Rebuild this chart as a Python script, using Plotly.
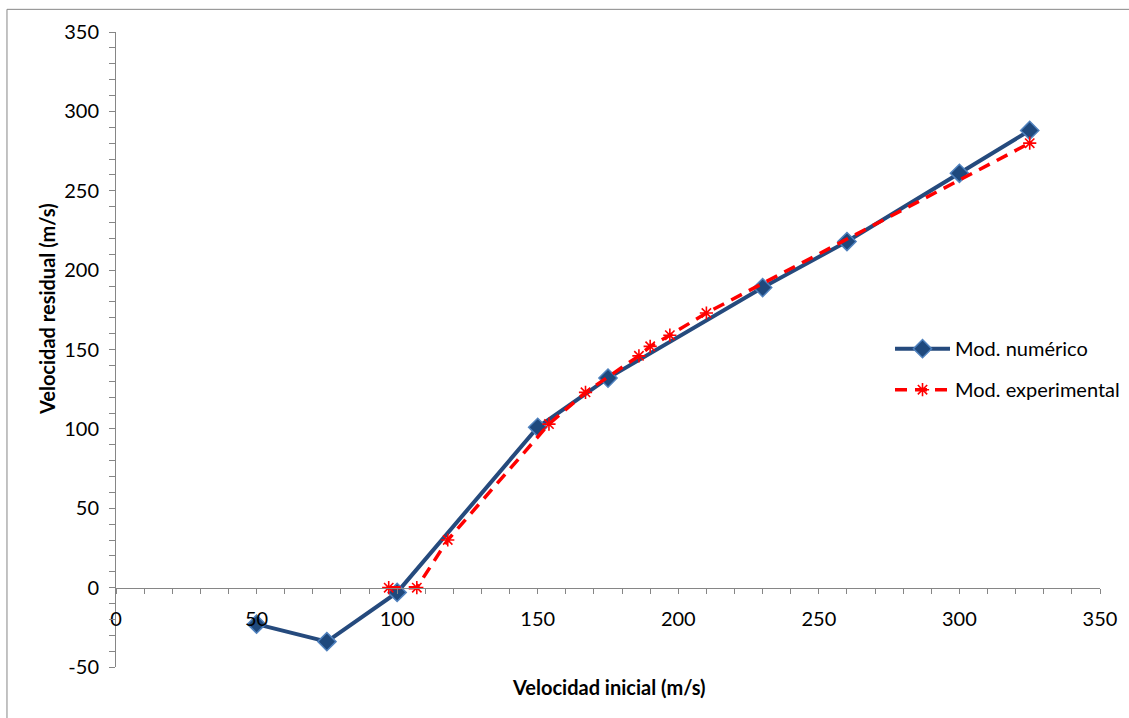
import plotly.graph_objects as go

# Numerical model results
num_x = [50, 75, 100, 150, 175, 230, 260, 300, 325]
num_y = [-23, -34, -3, 101, 132, 189, 218, 261, 288]

# Experimental results
exp_x = [97, 107, 118, 154, 167, 186, 190, 197, 210, 325]
exp_y = [0, 0, 30, 103, 123, 146, 152, 159, 173, 280]

x_ticks = [0, 50, 100, 150, 200, 250, 300, 350]
y_ticks = [-50, 0, 50, 100, 150, 200, 250, 300, 350]
y_tick_text = ["-50", "0", "50", "100", "150", "200", "250", "300", "350"]

FONT = "Lato"
FS = 20
AXIS_GRAY = "#868686"

fig = go.Figure()

fig.add_trace(go.Scatter(
    x=num_x, y=num_y, name="Mod. numérico", mode="lines+markers",
    line=dict(color="#254A7D", width=4),
    marker=dict(symbol="diamond", size=14, color="#1F497D",
                line=dict(color="#4F81BD", width=1.5)),
    legendgroup="a",
))

fig.add_trace(go.Scatter(
    x=exp_x, y=exp_y, name="Mod. experimental", mode="lines+markers",
    line=dict(color="#FF0000", width=3.5, dash="12px,8px"),
    marker=dict(symbol="asterisk-open", size=11,
                line=dict(color="#C0504D", width=1.6)),
    legendgroup="b",
))

# Outer chart frame (left and top edges)
fig.add_shape(type="line", xref="paper", yref="paper",
              x0=-0.1108, x1=-0.1108, y0=-0.2, y1=1.0357,
              line=dict(color=AXIS_GRAY, width=1))
fig.add_shape(type="line", xref="paper", yref="paper",
              x0=-0.1108, x1=1.2, y0=1.0357, y1=1.0357,
              line=dict(color=AXIS_GRAY, width=1))

fig.add_annotation(text="<b>Velocidad residual (m/s)</b>", xref="paper", yref="paper",
                   x=-0.0701, y=0.5637, showarrow=False, textangle=-90,
                   xanchor="center", yanchor="middle",
                   font=dict(family=FONT, size=FS, color="black"))
fig.add_annotation(text="<b>Velocidad inicial (m/s)</b>", xref="paper", yref="paper",
                   x=0.501, y=-0.031, showarrow=False,
                   xanchor="center", yanchor="middle",
                   font=dict(family=FONT, size=FS, color="black"))

fig.update_layout(
    width=1129, height=718,
    margin=dict(l=116, r=29, t=32, b=51, autoexpand=False),
    paper_bgcolor="white", plot_bgcolor="white",
    font=dict(family=FONT, size=FS, color="black"),
    showlegend=True,
    legend=dict(x=0.7866, y=0.532, xanchor="left", yanchor="top",
                font=dict(family=FONT, size=FS, color="black"),
                itemwidth=55, tracegroupgap=12, bgcolor="rgba(0,0,0,0)"),
    xaxis=dict(range=[0, 350], tickvals=x_ticks, showgrid=False, zeroline=False,
               showline=True, linecolor=AXIS_GRAY, linewidth=1,
               ticks="outside", ticklen=5, tickcolor=AXIS_GRAY,
               minor=dict(dtick=10, ticks="outside", ticklen=5, tickcolor=AXIS_GRAY),
               anchor="free", position=0.125, ticklabelstandoff=8,
               tickfont=dict(family=FONT, size=FS, color="black")),
    yaxis=dict(range=[-50, 350], tickvals=y_ticks, ticktext=y_tick_text,
               showgrid=False, zeroline=False,
               showline=True, linecolor=AXIS_GRAY, linewidth=1,
               ticks="outside", ticklen=6, tickcolor=AXIS_GRAY,
               minor=dict(dtick=10, ticks="outside", ticklen=6, tickcolor=AXIS_GRAY),
               ticklabelstandoff=6,
               tickfont=dict(family=FONT, size=FS, color="black")),
)

fig.write_html("out.html")
